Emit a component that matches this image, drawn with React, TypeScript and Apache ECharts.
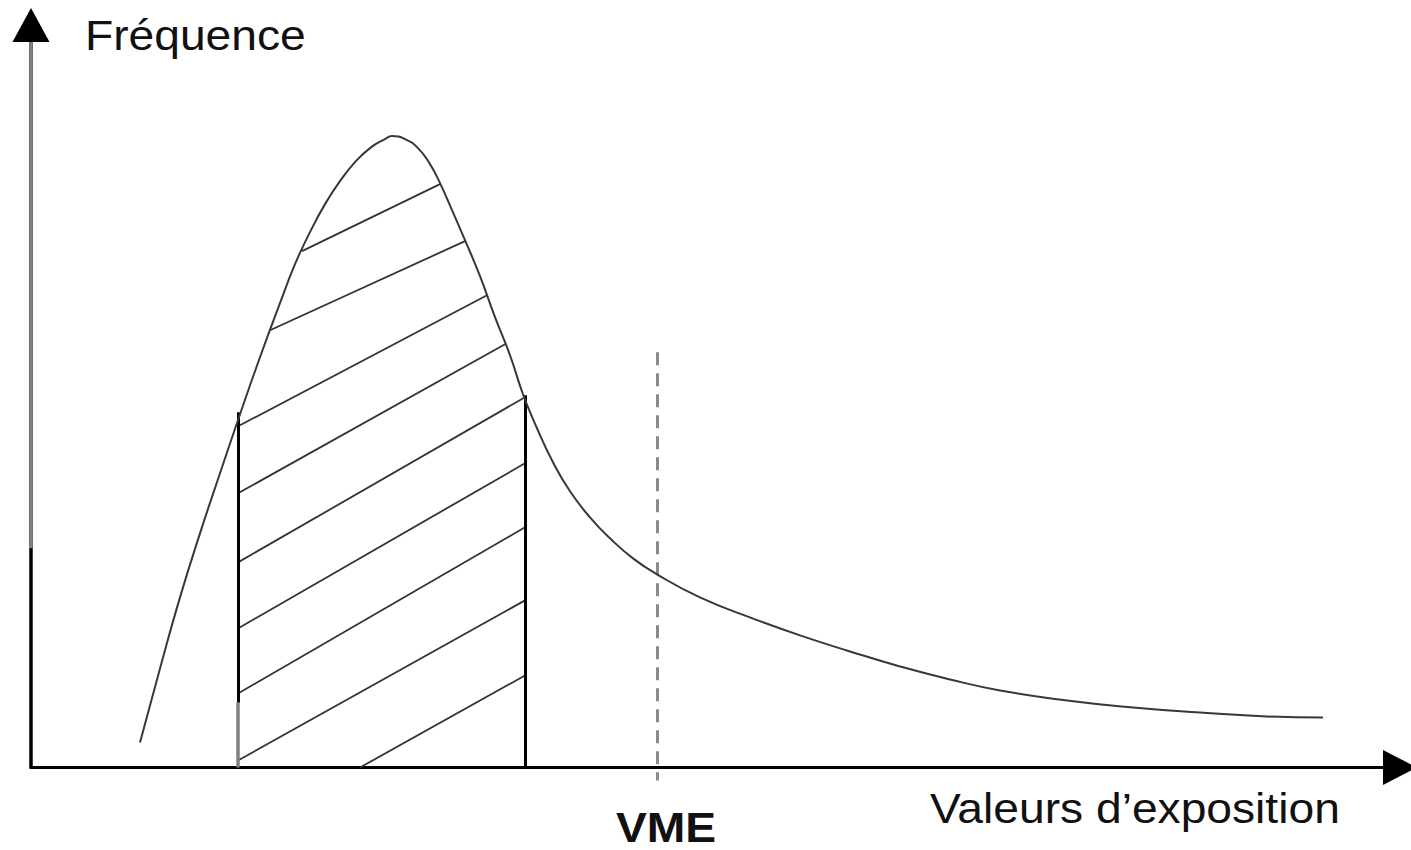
import React, { useEffect, useRef } from "react";
import * as echarts from "echarts";

// Units: one unit = one pixel of the reference, measured from the axes' origin.
const curveX = [109, 129, 149, 169, 189, 209, 229, 249, 264, 279, 294, 309, 324, 339, 354, 361, 374, 387, 399, 409, 421, 434, 449, 464, 479, 492, 506, 522, 539, 559, 579, 602, 626, 669, 719, 769, 819, 869, 919, 969, 1036, 1102, 1169, 1236, 1292];
const curveY = [25, 99, 170, 234, 294, 353, 410, 464, 503, 535, 563, 586, 605, 619, 628, 631, 628, 619, 603, 584, 557, 527, 491, 450, 412, 373, 339, 305, 276, 250, 229, 209, 193, 170, 150, 132, 116, 101, 88, 77, 67, 60, 55, 51, 50];

// Hatching segments inside the shaded band
const hatchStartX = [271, 239, 209, 207, 207, 207, 207, 207, 329];
const hatchStartY = [516, 437, 342, 274, 205, 139, 74, 7, 0];
const hatchEndX = [409, 434, 456, 474, 494, 494, 494, 494, 494];
const hatchEndY = [583, 526, 472, 423, 370, 304, 240, 167, 92];

// Shaded band boundaries
const bandLeftX = 207;
const bandLeftTop = 355;
const bandLeftGrayTop = 65;
const bandRightX = 494;
const bandRightTop = 372;

// VME threshold
const vmeX = 626;
const vmeTop = 415;
const vmeBottom = -13;

// Y axis: lower black part, upper gray part
const yAxisBlackTop = 219;
const yAxisGrayTop = 725;

const xMax = 1369;
const yMax = 742;

const xAxisTitle = "Valeurs d’exposition";
const yAxisTitle = "Fréquence";
const vmeLabel = "VME";

export default function App() {
  const ref = useRef<HTMLDivElement>(null);

  useEffect(() => {
    if (!ref.current) return;
    const chart = echarts.init(ref.current, undefined, { renderer: "svg" });

    const curveData = curveX.map((x, i) => [x, curveY[i]]);
    const hatchData = hatchStartX.map((x, i) => ({
      coords: [
        [x, hatchStartY[i]],
        [hatchEndX[i], hatchEndY[i]],
      ],
    }));

    const font = "'Liberation Sans', Arial, sans-serif";

    chart.setOption({
      animation: false,
      grid: { left: 31, right: 11, top: 25, bottom: 82.5 },
      xAxis: {
        type: "value",
        min: 0,
        max: xMax,
        axisLine: {
          show: true,
          onZero: false,
          symbol: ["none", "triangle"],
          symbolSize: [35, 34],
          lineStyle: { color: "#000", width: 3 },
        },
        axisTick: { show: false },
        axisLabel: { show: false },
        splitLine: { show: false },
      },
      yAxis: {
        type: "value",
        min: 0,
        max: yMax,
        axisLine: {
          show: true,
          onZero: false,
          symbol: ["none", "triangle"],
          symbolSize: [37, 34],
          lineStyle: { color: "#000", width: 3.5 },
        },
        axisTick: { show: false },
        axisLabel: { show: false },
        splitLine: { show: false },
      },
      series: [
        {
          type: "lines",
          coordinateSystem: "cartesian2d",
          clip: false,
          silent: true,
          z: 3,
          lineStyle: { color: "#808080", width: 3.5, opacity: 1 },
          data: [
            { coords: [[0, yAxisBlackTop], [0, yAxisGrayTop]] },
            { coords: [[bandLeftX, 0], [bandLeftX, bandLeftGrayTop]] },
          ],
        },
        {
          type: "lines",
          coordinateSystem: "cartesian2d",
          clip: false,
          silent: true,
          z: 3,
          lineStyle: { color: "#000", width: 3, opacity: 1 },
          data: [
            { coords: [[bandLeftX, bandLeftGrayTop], [bandLeftX, bandLeftTop]] },
            { coords: [[bandRightX, 0], [bandRightX, bandRightTop]] },
          ],
        },
        {
          type: "lines",
          coordinateSystem: "cartesian2d",
          clip: false,
          silent: true,
          z: 2,
          lineStyle: { color: "#333", width: 1.8, opacity: 1 },
          data: hatchData,
        },
        {
          type: "lines",
          coordinateSystem: "cartesian2d",
          clip: false,
          silent: true,
          z: 2,
          lineStyle: { color: "#8a8a8a", width: 3, opacity: 1, type: [13, 8] },
          data: [{ coords: [[vmeX, vmeTop], [vmeX, vmeBottom]] }],
        },
        {
          type: "line",
          data: curveData,
          smooth: 0.5,
          showSymbol: false,
          silent: true,
          z: 4,
          lineStyle: { color: "#383838", width: 2 },
        },
      ],
      graphic: [
        {
          type: "text",
          x: 85,
          y: 35.5,
          scaleX: 1.1,
          style: {
            text: yAxisTitle,
            fontFamily: font,
            fontSize: 42,
            fill: "#111",
            align: "left",
            verticalAlign: "middle",
          },
        },
        {
          type: "text",
          x: 930,
          y: 808.5,
          scaleX: 1.1,
          style: {
            text: xAxisTitle,
            fontFamily: font,
            fontSize: 42,
            fill: "#111",
            align: "left",
            verticalAlign: "middle",
          },
        },
        {
          type: "text",
          x: 616,
          y: 827.5,
          scaleX: 1.1,
          style: {
            text: vmeLabel,
            fontFamily: font,
            fontSize: 42,
            fontWeight: "bold",
            fill: "#111",
            align: "left",
            verticalAlign: "middle",
          },
        },
      ],
    });

    return () => chart.dispose();
  }, []);

  return (
    <div
      ref={ref}
      style={{
        position: "fixed",
        left: 0,
        top: 0,
        width: 1411,
        height: 850,
        background: "#fff",
      }}
    />
  );
}
